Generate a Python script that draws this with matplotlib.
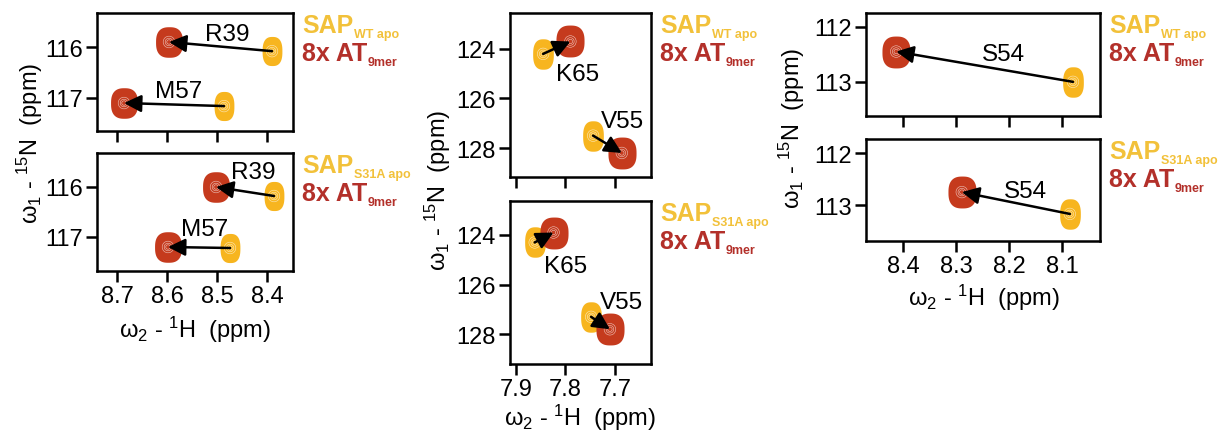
import numpy as np
import matplotlib
matplotlib.use("Agg")
import matplotlib.pyplot as plt
from matplotlib.path import Path

plt.rcParams['font.family'] = ['Liberation Sans', 'DejaVu Sans']
plt.rcParams['mathtext.fontset'] = 'custom'
plt.rcParams['mathtext.rm'] = 'Liberation Sans'
plt.rcParams['mathtext.it'] = 'Liberation Sans:italic'
plt.rcParams['mathtext.bf'] = 'Liberation Sans:bold'

YEL = '#F7B51F'
RED = '#C53A1D'
LEG_YEL = '#F2C13A'
LEG_RED = '#B3302A'

# --- data: peak positions (1H ppm, 15N ppm) ---
# left column
left_res = ['R39', 'M57']
left_wt_apo_H = [8.390, 8.486]
left_wt_apo_N = [116.08, 117.16]
left_wt_at_H = [8.596, 8.686]
left_wt_at_N = [115.90, 117.10]
left_s31a_apo_H = [8.386, 8.474]
left_s31a_apo_N = [116.18, 117.22]
left_s31a_at_H = [8.502, 8.598]
left_s31a_at_N = [116.00, 117.20]
left_wt_lab = [(8.480, 115.75), (8.576, 116.86)]
left_s31a_lab = [(8.428, 115.70), (8.524, 116.84)]

# middle column
mid_res = ['K65', 'V55']
mid_wt_apo_H = [7.845, 7.744]
mid_wt_apo_N = [124.20, 127.50]
mid_wt_at_H = [7.790, 7.686]
mid_wt_at_N = [123.70, 128.20]
mid_s31a_apo_H = [7.862, 7.748]
mid_s31a_apo_N = [124.30, 127.30]
mid_s31a_at_H = [7.824, 7.710]
mid_s31a_at_N = [123.90, 127.80]
mid_wt_lab = [(7.775, 125.0), (7.684, 126.9)]
mid_s31a_lab = [(7.800, 125.25), (7.686, 126.7)]

# right column
right_res = ['S54']
right_wt_apo_H = [8.079]
right_wt_apo_N = [113.00]
right_wt_at_H = [8.413]
right_wt_at_N = [112.45]
right_s31a_apo_H = [8.085]
right_s31a_apo_N = [113.17]
right_s31a_at_H = [8.289]
right_s31a_at_N = [112.75]
right_wt_lab = [(8.210, 112.50)]
right_s31a_lab = [(8.168, 112.73)]


def blob(aspect):
    # rounded (superellipse) marker, height 1, width = aspect
    t = np.linspace(0, 2 * np.pi, 80)
    n = 2.6
    x = aspect * np.sign(np.cos(t)) * np.abs(np.cos(t)) ** (2 / n)
    y = np.sign(np.sin(t)) * np.abs(np.sin(t)) ** (2 / n)
    return Path(np.column_stack([x, y]), closed=True)


def panel(ax, apo_H, apo_N, at_H, at_N, res, labs, xlim, ylim, xticks, yticks, sz):
    ax.scatter(apo_H, apo_N, s=sz, marker=blob(0.68), color=YEL, lw=0, zorder=2)
    ax.scatter(at_H, at_N, s=sz * 1.1, marker=blob(0.88), color=RED, lw=0, zorder=2)
    for s in (70, 30, 10):
        ax.scatter(apo_H + at_H, apo_N + at_N, s=s, marker='o', facecolor='none',
                   edgecolor='white', lw=0.4, alpha=0.7, zorder=3)
    for h0, n0, h1, n1 in zip(apo_H, apo_N, at_H, at_N):
        ax.annotate('', xy=(h1, n1), xytext=(h0, n0),
                    arrowprops=dict(arrowstyle='-|>', color='black', lw=1.8,
                                    mutation_scale=26, shrinkA=0, shrinkB=0),
                    zorder=4)
    for r, (lx, ly) in zip(res, labs):
        ax.text(lx, ly, r, fontsize=17.5, ha='center', va='center', zorder=5)
    ax.set_xlim(xlim)
    ax.set_ylim(ylim)
    ax.set_xticks(xticks)
    ax.set_yticks(yticks)
    for sp in ax.spines.values():
        sp.set_linewidth(1.8)
    ax.tick_params(length=8, width=1.8, labelsize=17, pad=2)


fig = plt.figure(figsize=(12.18, 4.35), dpi=100)
W, H = 1218, 435


def add_ax(x0, x1, y0, y1):
    return fig.add_axes([x0 / W, 1 - y1 / H, (x1 - x0) / W, (y1 - y0) / H])


def add_legend(ax, sub):
    t1 = ax.annotate('SAP', xy=(1, 1), xycoords='axes fraction', xytext=(6.5, -14),
                     textcoords='offset points', color=LEG_YEL, fontsize=18,
                     fontweight='bold', va='baseline', ha='left')
    ax.annotate(sub, xy=(1, 0), xycoords=t1, xytext=(0.5, -2), textcoords='offset points',
                color=LEG_YEL, fontsize=9, fontweight='bold', va='bottom', ha='left')
    t2 = ax.annotate('8x AT', xy=(1, 1), xycoords='axes fraction', xytext=(6.5, -34),
                     textcoords='offset points', color=LEG_RED, fontsize=18,
                     fontweight='bold', va='baseline', ha='left')
    ax.annotate('9mer', xy=(1, 0), xycoords=t2, xytext=(0.5, -2), textcoords='offset points',
                color=LEG_RED, fontsize=9, fontweight='bold', va='bottom', ha='left')


# left column
ax1 = add_ax(97, 293, 14, 132)
panel(ax1, left_wt_apo_H, left_wt_apo_N, left_wt_at_H, left_wt_at_N, left_res, left_wt_lab,
      (8.74, 8.348), (117.65, 115.33), [8.7, 8.6, 8.5, 8.4], [116, 117], 440)
ax1.set_xticklabels([])
add_legend(ax1, 'WT apo')

ax2 = add_ax(97, 293, 154, 272)
panel(ax2, left_s31a_apo_H, left_s31a_apo_N, left_s31a_at_H, left_s31a_at_N, left_res, left_s31a_lab,
      (8.74, 8.348), (117.68, 115.32), [8.7, 8.6, 8.5, 8.4], [116, 117], 440)
add_legend(ax2, 'S31A apo')

# middle column
ax3 = add_ax(510, 651, 14, 178)
panel(ax3, mid_wt_apo_H, mid_wt_apo_N, mid_wt_at_H, mid_wt_at_N, mid_res, mid_wt_lab,
      (7.912, 7.627), (129.17, 122.55), [7.9, 7.8, 7.7], [124, 126, 128], 480)
ax3.set_xticklabels([])
add_legend(ax3, 'WT apo')

ax4 = add_ax(510, 651, 202, 365)
panel(ax4, mid_s31a_apo_H, mid_s31a_apo_N, mid_s31a_at_H, mid_s31a_at_N, mid_res, mid_s31a_lab,
      (7.912, 7.627), (129.2, 122.63), [7.9, 7.8, 7.7], [124, 126, 128], 480)
add_legend(ax4, 'S31A apo')

# right column
ax5 = add_ax(866, 1100, 14, 117)
panel(ax5, right_wt_apo_H, right_wt_apo_N, right_wt_at_H, right_wt_at_N, right_res, right_wt_lab,
      (8.47, 8.028), (113.62, 111.75), [8.4, 8.3, 8.2, 8.1], [112, 113], 480)
ax5.set_xticklabels([])
add_legend(ax5, 'WT apo')

ax6 = add_ax(866, 1100, 140, 242)
panel(ax6, right_s31a_apo_H, right_s31a_apo_N, right_s31a_at_H, right_s31a_at_N, right_res, right_s31a_lab,
      (8.47, 8.028), (113.69, 111.73), [8.4, 8.3, 8.2, 8.1], [112, 113], 480)
add_legend(ax6, 'S31A apo')

ylab = 'ω$_1$ - $^{15}$N  (ppm)'
xlab = 'ω$_2$ - $^{1}$H  (ppm)'
for x, y in [(30, 143), (438, 190), (792, 128)]:
    fig.text(x / W, 1 - y / H, ylab, rotation=90, fontsize=17, ha='center', va='center')
for x, y in [(195, 330), (580, 418), (984, 298)]:
    fig.text(x / W, 1 - y / H, xlab, fontsize=17, ha='center', va='center')

fig.savefig('out.png', dpi=100, facecolor='white')
